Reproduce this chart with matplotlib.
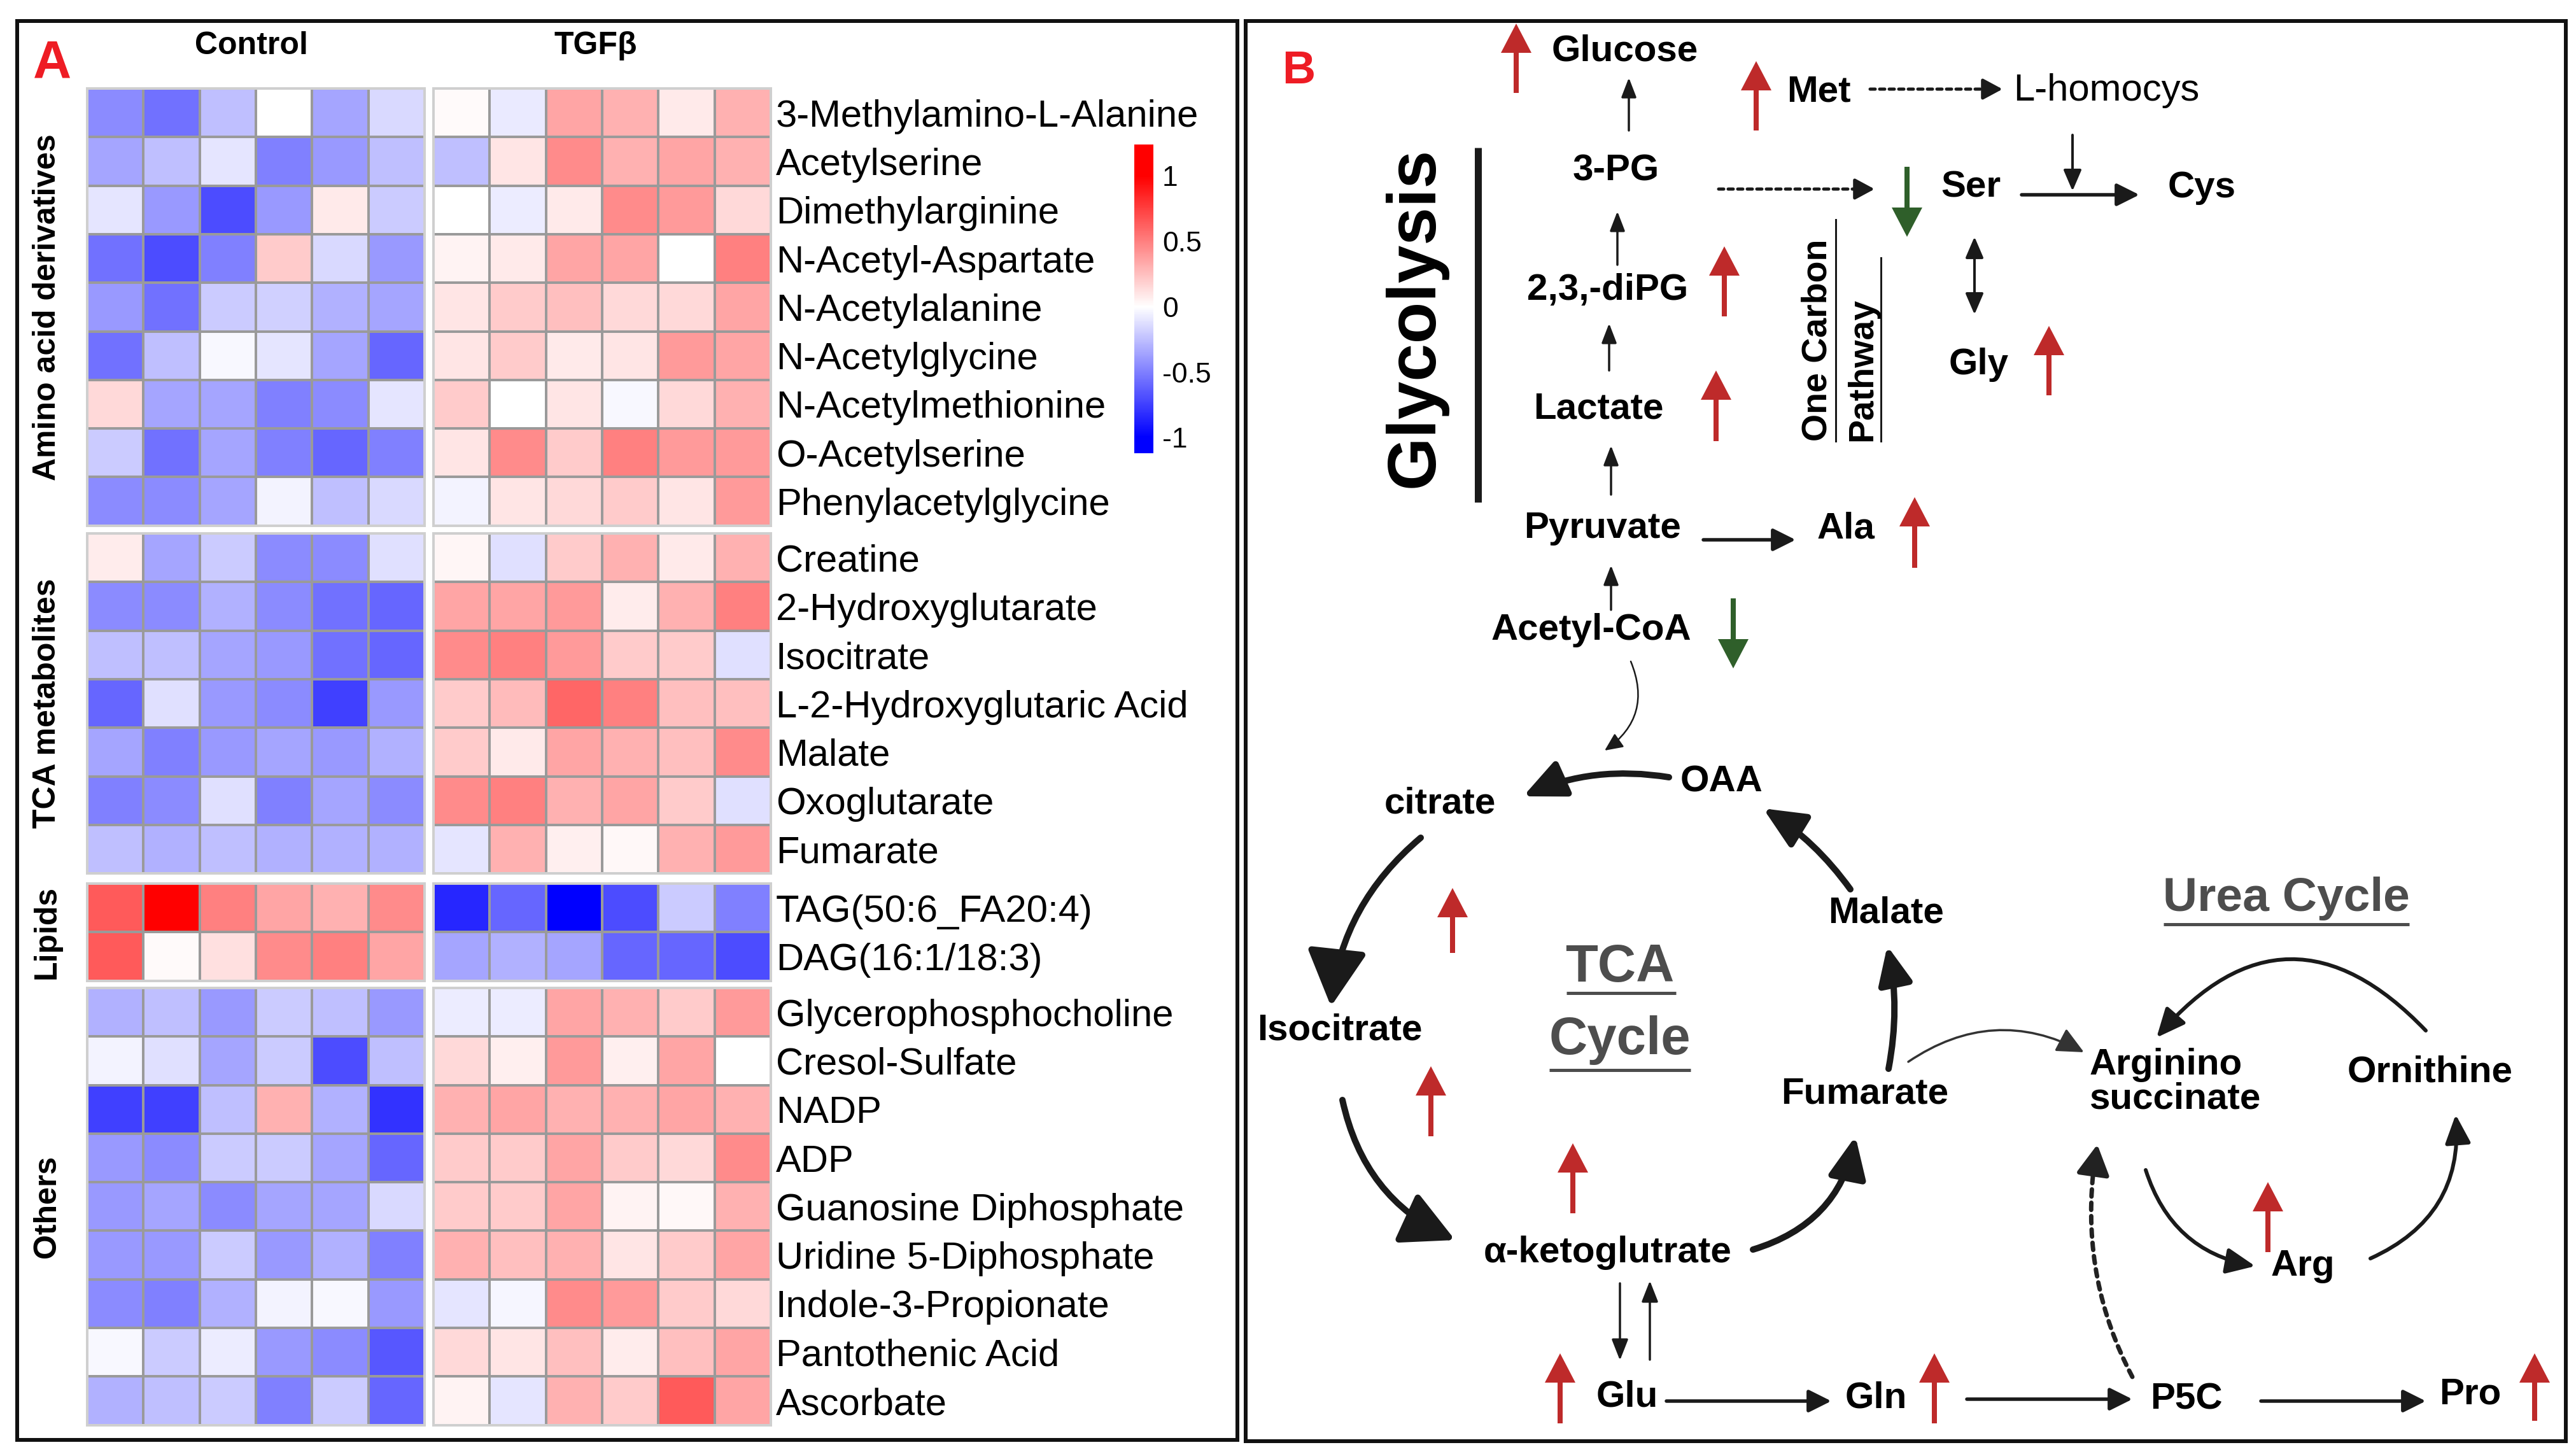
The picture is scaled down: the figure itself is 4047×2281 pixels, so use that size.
import numpy as np
import matplotlib
matplotlib.use('Agg')
import matplotlib.pyplot as plt
from matplotlib.colors import LinearSegmentedColormap, Normalize
from matplotlib.patches import FancyArrowPatch, Rectangle

plt.rcParams['font.family'] = ['Liberation Sans', 'DejaVu Sans']

W, H = 4047, 2281
DPI = 100
PT = 72 / DPI   # pixels -> points

# ----------------------------------------------------------------------------
# heatmap data (z-scores)
# ----------------------------------------------------------------------------
groups = ['Amino acid derivatives', 'TCA metabolites', 'Lipids', 'Others']

amino_names = ['3-Methylamino-L-Alanine', 'Acetylserine', 'Dimethylarginine',
               'N-Acetyl-Aspartate', 'N-Acetylalanine', 'N-Acetylglycine',
               'N-Acetylmethionine', 'O-Acetylserine', 'Phenylacetylglycine']
amino_ctrl = [[-0.45, -0.55, -0.25, 0.0, -0.35, -0.15],
              [-0.35, -0.25, -0.1, -0.5, -0.4, -0.25],
              [-0.1, -0.4, -0.7, -0.4, 0.08, -0.2],
              [-0.55, -0.7, -0.5, 0.2, -0.15, -0.4],
              [-0.4, -0.55, -0.2, -0.18, -0.3, -0.35],
              [-0.55, -0.25, -0.03, -0.1, -0.35, -0.6],
              [0.15, -0.35, -0.35, -0.5, -0.45, -0.1],
              [-0.2, -0.55, -0.35, -0.5, -0.6, -0.5],
              [-0.45, -0.45, -0.35, -0.05, -0.25, -0.15]]
amino_tgf = [[0.02, -0.08, 0.35, 0.3, 0.08, 0.3],
             [-0.25, 0.1, 0.45, 0.3, 0.35, 0.3],
             [0.0, -0.07, 0.08, 0.45, 0.4, 0.15],
             [0.05, 0.08, 0.35, 0.35, 0.0, 0.5],
             [0.1, 0.2, 0.25, 0.15, 0.15, 0.35],
             [0.1, 0.2, 0.08, 0.1, 0.4, 0.35],
             [0.2, 0.0, 0.1, -0.03, 0.15, 0.3],
             [0.1, 0.45, 0.2, 0.5, 0.4, 0.4],
             [-0.05, 0.1, 0.15, 0.2, 0.1, 0.4]]

tca_names = ['Creatine', '2-Hydroxyglutarate', 'Isocitrate',
             'L-2-Hydroxyglutaric Acid', 'Malate', 'Oxoglutarate', 'Fumarate']
tca_ctrl = [[0.07, -0.35, -0.2, -0.45, -0.45, -0.12],
            [-0.45, -0.45, -0.3, -0.45, -0.55, -0.6],
            [-0.25, -0.25, -0.35, -0.4, -0.55, -0.6],
            [-0.6, -0.12, -0.4, -0.45, -0.75, -0.4],
            [-0.35, -0.5, -0.4, -0.35, -0.4, -0.3],
            [-0.5, -0.45, -0.12, -0.5, -0.35, -0.45],
            [-0.25, -0.3, -0.25, -0.3, -0.3, -0.3]]
tca_tgf = [[0.04, -0.12, 0.2, 0.3, 0.08, 0.3],
           [0.35, 0.35, 0.4, 0.07, 0.3, 0.5],
           [0.45, 0.5, 0.4, 0.2, 0.2, -0.12],
           [0.2, 0.27, 0.6, 0.5, 0.25, 0.25],
           [0.2, 0.08, 0.35, 0.3, 0.25, 0.45],
           [0.45, 0.5, 0.3, 0.35, 0.2, -0.12],
           [-0.1, 0.3, 0.06, 0.03, 0.3, 0.4]]

lipid_names = ['TAG(50:6_FA20:4)', 'DAG(16:1/18:3)']
lipid_ctrl = [[0.65, 1.2, 0.5, 0.35, 0.3, 0.45],
              [0.65, 0.02, 0.12, 0.45, 0.5, 0.35]]
lipid_tgf = [[-0.85, -0.6, -1.1, -0.7, -0.2, -0.5],
             [-0.35, -0.3, -0.35, -0.6, -0.6, -0.7]]

other_names = ['Glycerophosphocholine', 'Cresol-Sulfate', 'NADP', 'ADP',
               'Guanosine Diphosphate', 'Uridine 5-Diphosphate',
               'Indole-3-Propionate', 'Pantothenic Acid', 'Ascorbate']
other_ctrl = [[-0.3, -0.25, -0.4, -0.2, -0.25, -0.4],
              [-0.05, -0.12, -0.35, -0.2, -0.7, -0.25],
              [-0.75, -0.75, -0.25, 0.3, -0.3, -0.8],
              [-0.4, -0.45, -0.2, -0.2, -0.35, -0.6],
              [-0.4, -0.35, -0.45, -0.35, -0.35, -0.15],
              [-0.4, -0.4, -0.2, -0.4, -0.3, -0.5],
              [-0.45, -0.5, -0.3, -0.05, -0.03, -0.4],
              [-0.03, -0.2, -0.07, -0.4, -0.45, -0.65],
              [-0.3, -0.25, -0.2, -0.5, -0.2, -0.6]]
other_tgf = [[-0.07, -0.07, 0.35, 0.3, 0.2, 0.4],
             [0.15, 0.06, 0.4, 0.06, 0.35, 0.0],
             [0.3, 0.35, 0.3, 0.3, 0.35, 0.3],
             [0.2, 0.2, 0.35, 0.2, 0.15, 0.45],
             [0.2, 0.2, 0.35, 0.05, 0.03, 0.3],
             [0.3, 0.25, 0.3, 0.1, 0.2, 0.35],
             [-0.1, -0.04, 0.45, 0.4, 0.2, 0.15],
             [0.15, 0.1, 0.25, 0.07, 0.25, 0.35],
             [0.05, -0.1, 0.3, 0.2, 0.65, 0.35]]

cbar_ticks = [-1, -0.5, 0, 0.5, 1]
cbar_labels = ['-1', '-0.5', '0', '0.5', '1']
cbar_min, cbar_max = -1.12, 1.24

blocks = [(amino_names, amino_ctrl, amino_tgf),
          (tca_names, tca_ctrl, tca_tgf),
          (lipid_names, lipid_ctrl, lipid_tgf),
          (other_names, other_ctrl, other_tgf)]

# ----------------------------------------------------------------------------
fig = plt.figure(figsize=(W / DPI, H / DPI), dpi=DPI)
bg = fig.add_axes([0, 0, 1, 1])
bg.set_xlim(0, W)
bg.set_ylim(H, 0)
bg.axis('off')


def px_axes(x, y, w, h):
    return fig.add_axes([x / W, 1 - (y + h) / H, w / W, h / H])


# panel frames
for (x0, y0, x1, y1) in [(27, 33, 1944, 2262), (1957, 33, 4031, 2264)]:
    bg.add_patch(Rectangle((x0, y0), x1 - x0, y1 - y0, fill=False,
                           ec='#111111', lw=6 * PT))

# colormap: blue -> white -> red, saturated beyond +-1
p = lambda v: (v - cbar_min) / (cbar_max - cbar_min)
cmap = LinearSegmentedColormap.from_list(
    'bwr_sat', [(0, '#0000ff'), (p(-1), '#0000ff'), (p(0), '#ffffff'),
                (p(1), '#ff0000'), (1, '#ff0000')])
norm = Normalize(cbar_min, cbar_max)

# ---------------------------------------------------------------- panel A
row_h = 76.3
block_tops = [139, 838, 1388, 1552]
col_left = [137, 681]
col_w = 530

for (names, ctrl, tgf), top, grp in zip(blocks, block_tops, groups):
    n = len(names)
    for k, vals in enumerate([ctrl, tgf]):
        hax = px_axes(col_left[k], top, col_w, n * row_h)
        mesh = hax.pcolormesh(np.array(vals), cmap=cmap, norm=norm,
                              edgecolors='#9a9a9a', linewidth=2.2 * PT)
        hax.set_xlim(0, 6)
        hax.set_ylim(n, 0)
        hax.set_xticks([])
        for s in hax.spines.values():
            s.set_color('#cfcfcf')
            s.set_linewidth(4 * PT)
        if k == 1:
            hax.yaxis.tick_right()
            hax.set_yticks(np.arange(n) + 0.5)
            hax.set_yticklabels(names, fontsize=43)
            hax.tick_params(axis='y', length=0, pad=8 * PT)
        else:
            hax.set_yticks([])
    bg.text(74, top + n * row_h / 2, grp, rotation=90, ha='center',
            va='center', fontsize=36, fontweight='bold')

bg.text(395, 72, 'Control', ha='center', va='center', fontsize=36,
        fontweight='bold')
bg.text(936, 72, 'TGFβ', ha='center', va='center', fontsize=36,
        fontweight='bold')
bg.text(82, 100, 'A', ha='center', va='center', fontsize=60,
        fontweight='bold', color='#ee1c24')

cax = px_axes(1782, 227, 30, 485)
cb = fig.colorbar(mesh, cax=cax, ticks=cbar_ticks)
cb.ax.set_yticklabels(cbar_labels, fontsize=32)
cb.ax.tick_params(length=0, pad=14 * PT)
cb.outline.set_visible(False)

# ---------------------------------------------------------------- panel B
RED = '#be2a2a'
GREEN = '#2f5f2a'
INK = '#1a1a1a'
GREY = '#4d4d4d'
DOTS = (0, (1.6, 1.4))


def arrow(p0, p1, lw=4, hl=26, hw=22, rad=0.0, color=INK, ls='-', style='-|>'):
    a = FancyArrowPatch(p0, p1, connectionstyle='arc3,rad=%s' % rad,
                        arrowstyle='%s,head_length=%s,head_width=%s'
                        % (style, hl * PT, hw / 2 * PT),
                        mutation_scale=1, lw=lw * PT, color=color,
                        linestyle=ls, shrinkA=0, shrinkB=0)
    bg.add_patch(a)


def dotted(p0, p1, lw, hl, hw, rad=0.0, color=INK, gap=6):
    # dotted shaft + solid head, head pointing along last part of the path
    (x0, y0), (x1, y1) = p0, p1
    if rad == 0:
        ux, uy = x1 - x0, y1 - y0
    else:
        # quadratic bezier control point (image coords have y down)
        mx, my = (x0 + x1) / 2, (y0 + y1) / 2
        dx, dy = x1 - x0, -(y1 - y0)
        cx, cy = mx + rad * dy, -(-my - rad * dx)
        ux, uy = x1 - cx, y1 - cy
    L = np.hypot(ux, uy)
    ux, uy = ux / L, uy / L
    base = (x1 - ux * (hl + gap), y1 - uy * (hl + gap))
    a = FancyArrowPatch(p0, base, connectionstyle='arc3,rad=%s' % rad,
                        arrowstyle='-', mutation_scale=1, lw=lw * PT,
                        color=color, linestyle=DOTS, shrinkA=0, shrinkB=0)
    bg.add_patch(a)
    arrow((x1 - ux * hl, y1 - uy * hl), p1, lw=lw, hl=hl, hw=hw, color=color)


def up_down(x, y0, y1, color):
    bg.arrow(x, y0, 0, y1 - y0, width=8, head_width=48, head_length=46,
             length_includes_head=True, fc=color, ec='none')


bg.text(2040, 112, 'B', ha='center', va='center', fontsize=52,
        fontweight='bold', color='#ee1c24')

labels = [('Glucose', 2553, 80), ('Met', 2857, 144), ('3-PG', 2539, 268),
          ('Ser', 3096, 295), ('Cys', 3459, 295), ('2,3,-diPG', 2526, 456),
          ('Gly', 3109, 573), ('Lactate', 2511, 643), ('Pyruvate', 2518, 830),
          ('Ala', 2900, 831), ('Acetyl-CoA', 2500, 990), ('OAA', 2704, 1229),
          ('citrate', 2262, 1262), ('Malate', 2963, 1435),
          ('Isocitrate', 2105, 1618), ('Fumarate', 2930, 1719),
          ('Ornithine', 3818, 1684), ('α-ketoglutrate', 2526, 1968),
          ('Arg', 3618, 1989), ('Glu', 2556, 2195), ('Gln', 2947, 2196),
          ('P5C', 3435, 2199), ('Pro', 3881, 2190)]
for t, x, y in labels:
    bg.text(x, y, t, ha='center', va='center', fontsize=42, fontweight='bold')
bg.text(3283, 1700, 'Arginino\nsuccinate', ha='left', va='center',
        fontsize=42, fontweight='bold', linespacing=1.0)
bg.text(3309, 142, 'L-homocys', ha='center', va='center', fontsize=43)

# glycolysis / one carbon headings
bg.text(2224, 498, 'Glycolysis', rotation=90, ha='center', va='center',
        fontsize=77, fontweight='bold')
bg.plot([2322, 2322], [232, 789], color=INK, lw=11 * PT, solid_capstyle='butt')
bg.text(2855, 693, 'One Carbon', rotation=90, rotation_mode='anchor',
        ha='left', va='center', fontsize=40, fontweight='bold')
bg.text(2926, 693, 'Pathway', rotation=90, rotation_mode='anchor',
        ha='left', va='center', fontsize=40, fontweight='bold')
bg.plot([2884, 2884], [345, 693], color=INK, lw=3 * PT)
bg.plot([2955, 2955], [405, 693], color=INK, lw=3 * PT)

# cycle headings
bg.text(2545, 1520, 'TCA', ha='center', va='center', fontsize=60,
        fontweight='bold', color=GREY)
bg.text(2545, 1634, 'Cycle', ha='center', va='center', fontsize=60,
        fontweight='bold', color=GREY)
bg.text(3592, 1412, 'Urea Cycle', ha='center', va='center', fontsize=54,
        fontweight='bold', color=GREY)
for (xa, xb, y) in [(2461, 2633, 1560), (2434, 2656, 1681), (3399, 3785, 1452)]:
    bg.plot([xa, xb], [y, y], color=GREY, lw=5 * PT, solid_capstyle='butt')

# up / down regulation
red_up = [(2382, 146, 37), (2759, 205, 96), (2709, 497, 387), (2696, 693, 582),
          (3008, 892, 781), (3219, 621, 512), (2282, 1497, 1395),
          (2248, 1785, 1675), (2471, 1906, 1796), (3563, 1967, 1857),
          (2451, 2236, 2126), (3039, 2236, 2126), (3982, 2232, 2126)]
green_down = [(2996, 262, 372), (2723, 940, 1050)]
for x, y0, y1 in red_up:
    up_down(x, y0, y1, RED)
for x, y0, y1 in green_down:
    up_down(x, y0, y1, GREEN)

# glycolysis chain
for x, y0, y1 in [(2559, 205, 122), (2541, 416, 332), (2528, 582, 508),
                  (2531, 777, 700), (2531, 958, 888)]:
    arrow((x, y0), (x, y1), lw=3.5, hl=26, hw=20)

# horizontal reactions
for (x0, y0, x1, y1) in [(2676, 848, 2821, 848), (3176, 306, 3361, 306),
                         (2618, 2201, 2877, 2201), (3090, 2198, 3350, 2198),
                         (3552, 2201, 3811, 2201)]:
    arrow((x0, y0), (x1, y1), lw=5.5, hl=30, hw=30)

arrow((3256, 212), (3256, 300), lw=4, hl=28, hw=24)
arrow((2545, 2016), (2545, 2137), lw=3.5, hl=28, hw=22)
arrow((2592, 2136), (2592, 2012), lw=3.5, hl=28, hw=22)
arrow((3102, 372), (3102, 494), lw=4, hl=28, hw=24, style='<|-|>')

# dotted conversions
dotted((2938, 140), (3146, 140), lw=5, hl=26, hw=28)
dotted((2700, 297), (2945, 297), lw=5, hl=26, hw=28)

# TCA cycle
tca = [((2622, 1221), (2393, 1251), 0.15, 55, 50),
       ((2232, 1316), (2091, 1581), 0.2, 75, 80),
       ((2109, 1728), (2286, 1948), 0.25, 70, 72),
       ((2754, 1963), (2915, 1785), 0.3, 55, 50),
       ((2967, 1679), (2965, 1486), 0.1, 50, 45),
       ((2907, 1397), (2770, 1270), 0.1, 55, 50)]
for p0, p1, r, hl, hw in tca:
    arrow(p0, p1, lw=10, hl=hl, hw=hw, rad=r)

# urea cycle
arrow((3371, 1838), (3543, 1989), lw=6, hl=38, hw=34, rad=0.3)
arrow((3724, 1977), (3858, 1751), lw=6, hl=38, hw=34, rad=0.35)
arrow((3811, 1619), (3388, 1630), lw=6, hl=38, hw=34, rad=0.55)

# links between pathways
arrow((2998, 1668), (3274, 1653), lw=3.5, hl=36, hw=34, rad=-0.3, color='#333333')
arrow((2562, 1039), (2521, 1179), lw=2.5, hl=24, hw=22, rad=-0.4)
dotted((3350, 2163), (3295, 1798), lw=7, hl=40, hw=44, rad=-0.15,
       color='#222222', gap=8)

fig.savefig('out.png', dpi=DPI)
